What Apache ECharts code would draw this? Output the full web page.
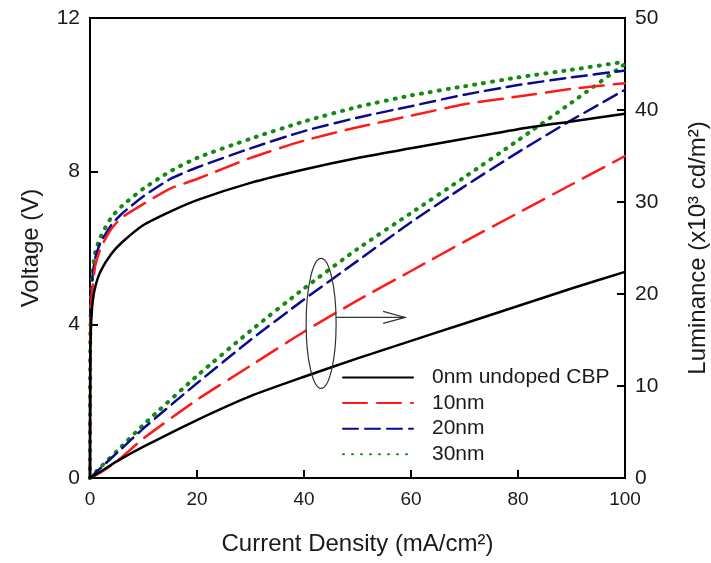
<!DOCTYPE html>
<html>
<head>
<meta charset="utf-8">
<script src="https://cdn.jsdelivr.net/npm/echarts@6/dist/echarts.min.js"></script>
<style>
  html, body { margin: 0; padding: 0; background: #fff; }
  #chart { width: 711px; height: 563px; }
</style>
</head>
<body>
<div id="chart"></div>
<script type="text/javascript">
// current density points (mA/cm2)
var jVolt = [0, 0.05, 0.2, 0.5, 1, 2, 4, 6, 10, 15, 20, 30, 40, 50, 60, 70, 80, 90, 100];
var jLum = [0, 2, 5, 10, 20, 30, 40, 50, 60, 70, 80, 90, 100];

var names = ['0nm undoped CBP', '10nm', '20nm', '30nm'];

// voltage (V), left axis
var volt0 = [0, 3.0, 4.0, 4.6, 5.0, 5.4, 5.85, 6.15, 6.6, 6.95, 7.25, 7.7, 8.05, 8.35, 8.6, 8.85, 9.1, 9.3, 9.5];
var volt10 = [0, 3.5, 4.5, 5.0, 5.55, 6.0, 6.5, 6.8, 7.15, 7.55, 7.8, 8.35, 8.8, 9.15, 9.45, 9.75, 9.95, 10.15, 10.3];
var volt20 = [0, 3.5, 4.6, 5.3, 5.75, 6.15, 6.6, 6.9, 7.35, 7.8, 8.1, 8.6, 9.05, 9.4, 9.7, 10.0, 10.25, 10.45, 10.63];
var volt30 = [0, 3.6, 4.7, 5.4, 5.9, 6.3, 6.8, 7.1, 7.55, 8.0, 8.35, 8.85, 9.3, 9.68, 9.98, 10.22, 10.45, 10.65, 10.86];

// luminance (x10^3 cd/m2), right axis
var lum0 = [0, 0.7, 1.8, 3.4, 6.3, 8.9, 11.0, 13.0, 14.9, 16.8, 18.7, 20.6, 22.4];
var lum10 = [0, 0.6, 1.8, 4.3, 8.5, 12.2, 15.9, 19.3, 22.5, 25.7, 28.8, 31.9, 35.0];
var lum20 = [0, 1.1, 2.7, 5.4, 10.3, 15.0, 19.4, 23.6, 27.8, 31.7, 35.4, 38.9, 42.2];
var lum30 = [0, 1.2, 2.9, 5.8, 11.1, 16.0, 20.6, 24.9, 28.8, 32.7, 36.7, 40.8, 45.0];

var colors = ['#000000', '#ff1a1a', '#0a0a8c', '#138a13'];
var dashes = ['solid', [24, 10], [15, 7], [1, 8]];
var widths = [2.5, 2.5, 2.5, 4];

function pairs(xs, ys) {
  var out = [];
  for (var i = 0; i < xs.length; i++) out.push([xs[i], ys[i]]);
  return out;
}

function makeSeries(idx, xs, ys, yAxisIndex) {
  return {
    name: names[idx],
    type: 'line',
    yAxisIndex: yAxisIndex,
    data: pairs(xs, ys),
    smooth: 0.2,
    symbol: 'none',
    animation: false,
    lineStyle: { color: colors[idx], width: widths[idx], type: dashes[idx], cap: 'round' },
    itemStyle: { color: colors[idx] }
  };
}

var voltData = [volt0, volt10, volt20, volt30];
var lumData = [lum0, lum10, lum20, lum30];
var series = [];
for (var k = 3; k >= 0; k--) {
  series.push(makeSeries(k, jLum, lumData[k], 1));
  series.push(makeSeries(k, jVolt, voltData[k], 0));
}

var chart = echarts.init(document.getElementById('chart'));
var textColor = '#1a1a1a';
var font = 'Liberation Sans, Arial, sans-serif';

var option = {
  backgroundColor: '#fff',
  animation: false,
  textStyle: { fontFamily: font },
  grid: {
    left: 90, right: 86, top: 18, bottom: 85,
    outerBoundsMode: 'none',
    show: true, borderColor: '#000', borderWidth: 2, backgroundColor: 'transparent'
  },
  legend: {
    data: names,
    orient: 'vertical',
    left: 337,
    top: 362,
    itemWidth: 70,
    itemHeight: 14,
    itemGap: 4.6,
    itemStyle: { opacity: 0 },
    textStyle: { fontSize: 21, lineHeight: 20, color: textColor, fontFamily: font, padding: [0, 0, 0, 14] }
  },
  xAxis: {
    type: 'value',
    min: 0, max: 100, interval: 20,
    name: 'Current Density (mA/cm²)',
    nameLocation: 'middle',
    nameGap: 54,
    nameTextStyle: { fontSize: 24, color: textColor },
    axisLine: { lineStyle: { color: '#000', width: 2 } },
    axisTick: { inside: true, length: 8, lineStyle: { color: '#000', width: 2 } },
    axisLabel: { fontSize: 19, color: textColor, margin: 12 },
    splitLine: { show: false }
  },
  yAxis: [{
    type: 'value',
    min: 0, max: 12, interval: 4,
    name: 'Voltage (V)',
    nameLocation: 'middle',
    nameGap: 47,
    nameTextStyle: { fontSize: 24, color: textColor },
    axisLine: { lineStyle: { color: '#000', width: 2 } },
    axisTick: { inside: true, length: 8, lineStyle: { color: '#000', width: 2 } },
    axisLabel: { fontSize: 21, color: textColor, margin: 10 },
    splitLine: { show: false }
  }, {
    type: 'value',
    position: 'right',
    min: 0, max: 50, interval: 10,
    name: 'Luminance (x10³ cd/m²)',
    nameLocation: 'middle',
    nameRotate: 90,
    nameGap: 61,
    nameTextStyle: { fontSize: 24, color: textColor },
    axisLine: { lineStyle: { color: '#000', width: 2 } },
    axisTick: { inside: true, length: 8, lineStyle: { color: '#000', width: 2 } },
    axisLabel: { fontSize: 21, color: textColor, margin: 10 },
    splitLine: { show: false }
  }],
  series: series
};

chart.setOption(option);

// ellipse marking the luminance curves, arrow pointing to the right axis
var c = chart.convertToPixel({ xAxisIndex: 0, yAxisIndex: 1 }, [43.2, 16.8]);
chart.setOption({
  graphic: [{
    type: 'ellipse',
    shape: { cx: c[0], cy: c[1], rx: 15, ry: 65 },
    style: { fill: 'none', stroke: '#333', lineWidth: 1.2 },
    z: 100
  }, {
    type: 'polyline',
    shape: { points: [[c[0] + 15, c[1] - 6], [c[0] + 84, c[1] - 6]] },
    style: { stroke: '#333', lineWidth: 1.2 },
    z: 100
  }, {
    type: 'polyline',
    shape: { points: [[c[0] + 62, c[1] - 12], [c[0] + 84, c[1] - 6], [c[0] + 62, c[1]]] },
    style: { stroke: '#333', lineWidth: 1.2, fill: 'none' },
    z: 100
  }]
});
</script>
</body>
</html>
